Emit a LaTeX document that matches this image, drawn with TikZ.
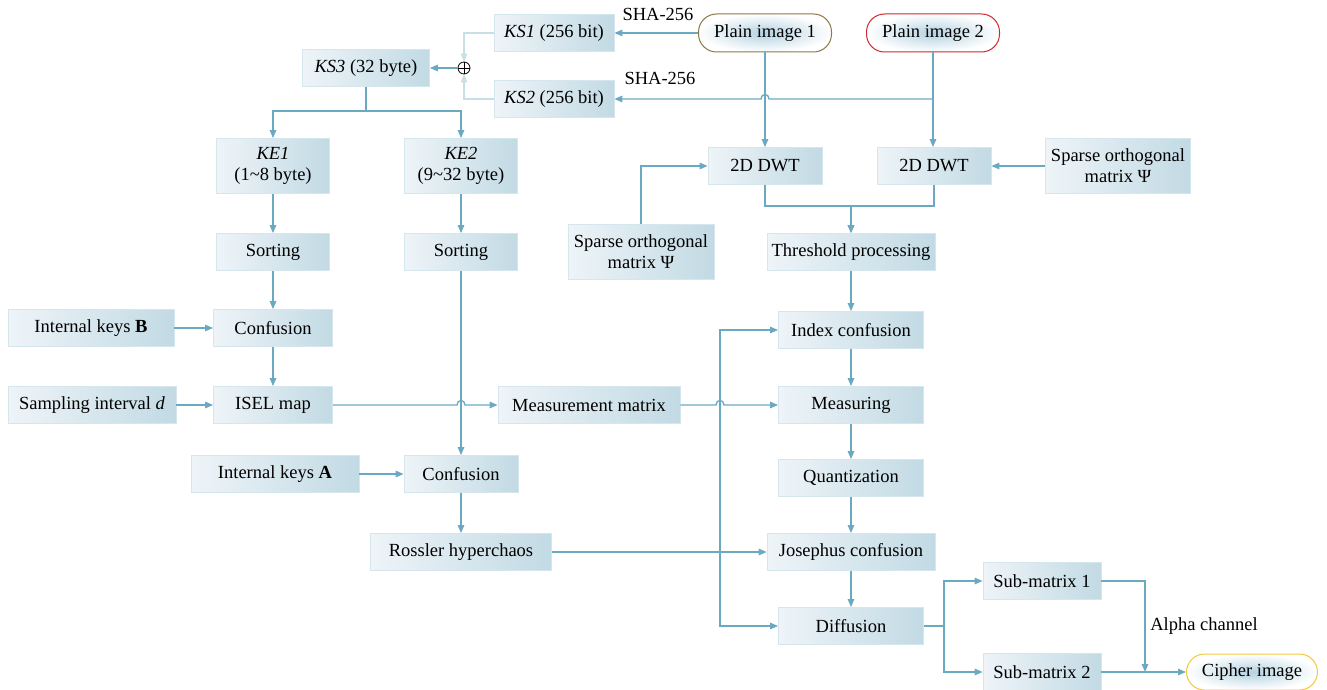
\documentclass[tikz,border=0pt]{standalone}
\usepackage{fontspec}
\setmainfont{Liberation Serif}
\usetikzlibrary{arrows.meta,calc}
\definecolor{lineC}{RGB}{107,169,195}
\definecolor{lightC}{RGB}{200,222,232}
\definecolor{boxL}{RGB}{238,244,248}
\definecolor{boxR}{RGB}{194,218,228}
\definecolor{boxB}{RGB}{214,230,238}
\definecolor{termIn}{RGB}{180,210,225}
\definecolor{pioneB}{RGB}{140,120,70}
\definecolor{pitwoB}{RGB}{210,40,45}
\definecolor{cipherB}{RGB}{245,200,60}
\begin{document}
\begin{tikzpicture}[x=1pt,y=-1pt,
  font=\fontsize{18.5}{21}\selectfont,
  box/.style={draw=boxB, line width=0.8pt, left color=boxL, right color=boxR,
    minimum height=37pt, inner sep=2pt, align=center},
  tallbox/.style={box, minimum height=55pt},
  term/.style={draw=#1, line width=1pt, rounded corners=18pt, inner color=termIn,
    outer color=white, minimum height=38pt, inner sep=2pt},
  lbl/.style={inner sep=1pt},
  xorc/.style={circle, draw=black, line width=0.8pt, minimum size=12pt, inner sep=0pt,
    path picture={\draw[black, line width=0.8pt]
      (path picture bounding box.north) -- (path picture bounding box.south)
      (path picture bounding box.west) -- (path picture bounding box.east);}},
  conn/.style={draw=lineC, line width=1.3pt},
  arr/.style={conn, -{Triangle[length=8pt,width=6.5pt]}},
  larr/.style={draw=lightC, line width=1.3pt, -{Triangle[length=8pt,width=6.5pt]}}
]
\useasboundingbox (0,0) rectangle (1327,690);

% top key stream part
\node[box, minimum width=120pt] (ks1) at (554,33) {\textit{KS1} (256 bit)};
\node[box, minimum width=120pt] (ks2) at (554,99) {\textit{KS2} (256 bit)};
\node[box, minimum width=127pt] (ks3) at (366,68) {\textit{KS3} (32 byte)};
\node[xorc] (xor) at (464,68) {};
\node[term=pioneB, minimum width=133pt] (pi1) at (765,33) {Plain image 1};
\node[term=pitwoB, minimum width=133pt] (pi2) at (933,33) {Plain image 2};
\node[lbl] (sha1) at (658,14) {SHA-256};
\node[lbl] (sha2) at (660,78) {SHA-256};

% left column
\node[tallbox, minimum width=113pt] (ke1) at (273,166) {\textit{KE1}\\(1\textasciitilde 8 byte)};
\node[tallbox, minimum width=113pt] (ke2) at (461,166) {\textit{KE2}\\(9\textasciitilde 32 byte)};
\node[box, minimum width=113pt] (sort1) at (273,252) {Sorting};
\node[box, minimum width=113pt] (sort2) at (461,252) {Sorting};
\node[box, minimum width=166pt] (ikb) at (91,328) {Internal keys \textbf{B}};
\node[box, minimum width=119pt] (conf1) at (273,328) {Confusion};
\node[box, minimum width=168pt] (samp) at (92,405) {Sampling interval \textit{d}};
\node[box, minimum width=119pt] (isel) at (273,405) {ISEL map};
\node[box, minimum width=182pt] (mm) at (589,405) {Measurement matrix};
\node[box, minimum width=168pt] (ika) at (275,474) {Internal keys \textbf{A}};
\node[box, minimum width=114pt] (conf2) at (461,474) {Confusion};
\node[box, minimum width=181pt] (ross) at (461,552) {Rossler hyperchaos};

% right column
\node[box, minimum width=114pt] (dwt1) at (765,166) {2D DWT};
\node[box, minimum width=114pt] (dwt2) at (934,166) {2D DWT};
\node[tallbox, minimum width=145pt] (spr) at (1118,166) {Sparse orthogonal\\matrix Ψ};
\node[tallbox, minimum width=146pt] (spl) at (641,252) {Sparse orthogonal\\matrix Ψ};
\node[box, minimum width=168pt] (thr) at (851,252) {Threshold processing};
\node[box, minimum width=145pt] (idx) at (851,330) {Index confusion};
\node[box, minimum width=145pt] (meas) at (851,405) {Measuring};
\node[box, minimum width=145pt] (quant) at (851,478) {Quantization};
\node[box, minimum width=168pt] (jos) at (851,552) {Josephus confusion};
\node[box, minimum width=145pt] (diff) at (851,626) {Diffusion};
\node[box, minimum width=118pt] (sm1) at (1042,581) {Sub-matrix 1};
\node[box, minimum width=118pt] (sm2) at (1042,672) {Sub-matrix 2};
\node[term=cipherB, minimum width=131pt, minimum height=36pt] (cipher) at (1252,672) {Cipher image};
\node[lbl] (alpha) at (1204,626) {Alpha channel};

\coordinate (bx) at (720,552);
\coordinate (aj) at (1145,672);

% connectors top
\draw[arr] (pi1.west) -- (ks1.east);
\draw[arr] (pi2.south) -- (pi2.south |- ks2.east)
  -- ($(pi1.south |- ks2.east)+(4,0)$) .. controls +(0,-6) and +(0,-6) .. ($(pi1.south |- ks2.east)+(-4,0)$)
  -- (ks2.east);
\draw[arr] (pi1.south) -- (dwt1.north);
\draw[arr] (pi2.south) -- (pi2.south |- dwt2.north);
\draw[larr] (ks1.west) -| (xor.north);
\draw[larr] (ks2.west) -| (xor.south);
\draw[arr] (xor.west) -- (ks3.east);
\draw[arr] (ks3.south) -- +(0,24) -| (ke1.north);
\draw[arr] (ks3.south) -- +(0,24) -| (ke2.north);

% left chain
\draw[arr] (ke1.south) -- (sort1.north);
\draw[arr] (sort1.south) -- (conf1.north);
\draw[arr] (conf1.south) -- (isel.north);
\draw[arr] (ikb.east) -- (conf1.west);
\draw[arr] (samp.east) -- (isel.west);
\draw[arr] (ke2.south) -- (sort2.north);
\draw[arr] (sort2.south) -- (conf2.north);
\draw[arr] (isel.east) -- ($(isel.east -| sort2.south)+(-4,0)$)
  .. controls +(0,-6) and +(0,-6) .. ($(isel.east -| sort2.south)+(4,0)$) -- (mm.west);
\draw[arr] (ika.east) -- (conf2.west);
\draw[arr] (conf2.south) -- (ross.north);

% right chain
\draw[arr] (spl.north) |- (dwt1.west);
\draw[arr] (spr.west) -- (dwt2.east);
\draw[arr] (dwt1.south) -- +(0,21) -| (thr.north);
\draw[arr] (dwt2.south) -- +(0,21) -| (thr.north);
\draw[arr] (thr.south) -- (idx.north);
\draw[arr] (idx.south) -- (meas.north);
\draw[arr] (meas.south) -- (quant.north);
\draw[arr] (quant.south) -- (jos.north);
\draw[arr] (jos.south) -- (diff.north);
\draw[arr] (mm.east) -- ($(mm.east -| bx)+(-4,0)$)
  .. controls +(0,-6) and +(0,-6) .. ($(mm.east -| bx)+(4,0)$) -- (meas.west);
\draw[arr] (ross.east) -- (jos.west);
\draw[arr] (bx) |- (idx.west);
\draw[arr] (bx) |- (diff.west);

% output
\draw[arr] (diff.east) -- +(20,0) |- (sm1.west);
\draw[arr] (diff.east) -- +(20,0) |- (sm2.west);
\draw[arr] (sm1.east) -| (aj);
\draw[arr] (sm2.east) -- (cipher.west);
\end{tikzpicture}
\end{document}
